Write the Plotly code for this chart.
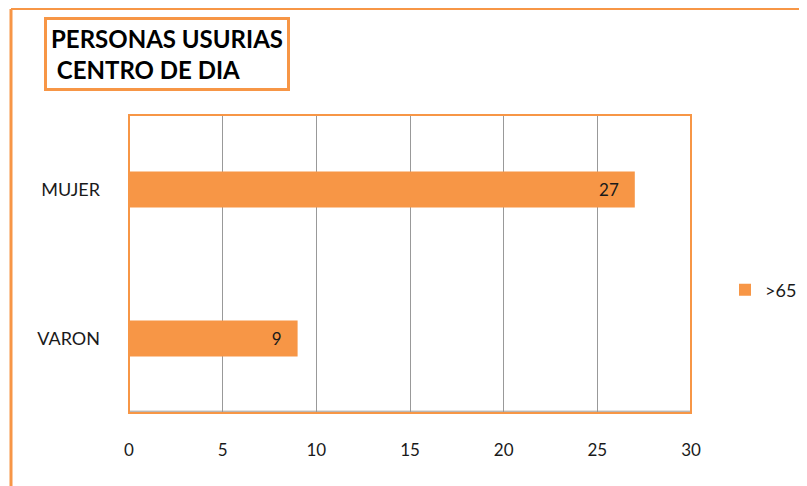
import plotly.graph_objects as go

categories = ["VARON", "MUJER"]
values = [9, 27]
series_name = ">65"
title_lines = ["PERSONAS USURIAS", " CENTRO DE DIA"]
x_ticks = [0, 5, 10, 15, 20, 25, 30]

orange = "#F79646"
font = "Lato, 'Open Sans', sans-serif"

# the page body adds an 8px margin, so the figure is drawn 8px in
OFF = 8
W, H = 807 - OFF, 486 - OFF
L, T = 129 - OFF, 115 - OFF
pw, ph = 562, 298
R, B = W - L - pw, H - T - ph


def px_x(p):
    # page pixel -> paper coordinate
    return (p - OFF - L) / pw


def px_y(p):
    return (H - B - (p - OFF)) / ph


fig = go.Figure()
fig.add_trace(
    go.Bar(
        y=categories,
        x=values,
        orientation="h",
        name=series_name,
        marker=dict(color=orange, line=dict(width=0)),
        width=0.24,
        text=values,
        texttemplate="%{x}\u00a0\u00a0\u00a0",
        textposition="inside",
        insidetextanchor="end",
        textfont=dict(family=font, size=17, color="#1a1a1a"),
        showlegend=True,
    )
)

fig.update_xaxes(
    range=[0, 30],
    tickvals=x_ticks,
    showgrid=True,
    gridcolor="#999999",
    gridwidth=1,
    zeroline=False,
    showline=False,
    ticks="",
    automargin=False,
    ticklabelstandoff=25,
    tickfont=dict(family=font, size=17, color="#1a1a1a"),
)
fig.update_yaxes(
    showgrid=False,
    zeroline=False,
    showline=False,
    ticks="",
    automargin=False,
    ticklabelstandoff=28,
    tickfont=dict(family=font, size=18, color="#1a1a1a"),
)

shapes = [
    # grey baseline just inside the bottom edge
    dict(type="line", xref="paper", yref="paper", x0=0, x1=1, y0=0.006, y1=0.006,
         line=dict(color="#999999", width=1)),
    # plot area frame
    dict(type="rect", xref="paper", yref="paper", x0=0, x1=1, y0=0, y1=1,
         line=dict(color=orange, width=2)),
    # outer chart frame (left and top edges)
    dict(type="line", xref="paper", yref="paper", x0=px_x(11), x1=px_x(11),
         y0=px_y(9), y1=px_y(490), line=dict(color=orange, width=3)),
    dict(type="line", xref="paper", yref="paper", x0=px_x(11), x1=px_x(810),
         y0=px_y(9), y1=px_y(9), line=dict(color=orange, width=2)),
]

fig.update_layout(
    width=W,
    height=H,
    margin=dict(l=L, r=R, t=T, b=B, autoexpand=False),
    paper_bgcolor="white",
    plot_bgcolor="white",
    shapes=shapes,
    showlegend=True,
    legend=dict(
        x=px_x(725), y=px_y(290), xanchor="left", yanchor="middle",
        font=dict(family=font, size=18, color="#1a1a1a"),
        itemwidth=30,
    ),
    annotations=[
        dict(
            text="<b>" + "<br>".join(title_lines) + "</b>",
            xref="paper", yref="paper",
            x=px_x(44), y=px_y(17), xanchor="left", yanchor="top",
            showarrow=False, align="left",
            font=dict(family=font, size=24, color="#000000"),
            bordercolor=orange, borderwidth=3, borderpad=4,
            bgcolor="white",
        )
    ],
)

fig.write_html("out.html")
